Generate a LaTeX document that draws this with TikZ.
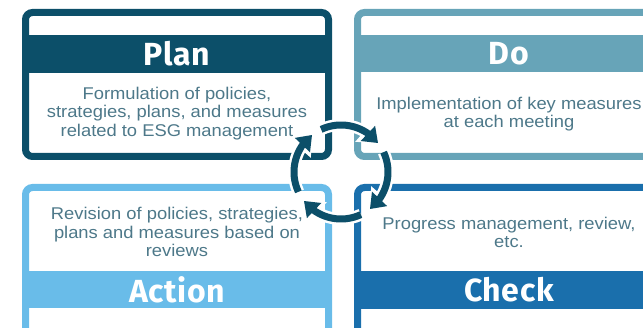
\documentclass[tikz,border=0pt]{standalone}
\usepackage{fontspec}
\setmainfont[FakeStretch=1.08]{Liberation Sans}
\newfontfamily\titlefont[LetterSpace=2]{Fira Sans}
\usetikzlibrary{arrows.meta,bending}
\definecolor{planc}{HTML}{0C4F69}
\definecolor{doc}{HTML}{67A4B8}
\definecolor{actc}{HTML}{69BCE9}
\definecolor{chkc}{HTML}{1A6FAC}
\definecolor{txtc}{HTML}{4D7889}
\tikzset{
  boxframe/.style={line width=7pt, rounded corners=7pt},
  ttl/.style={text=white, font=\titlefont\bfseries\fontsize{32}{36}\selectfont, inner sep=0pt},
  body/.style={text=txtc, align=center, font=\fontsize{17}{18.5}\selectfont, inner sep=0pt},
  halo/.style={draw=white, line width=12pt, -{Triangle[width=27pt,length=18pt]}},
  cyc/.style={draw=planc, line width=7pt, -{Triangle[width=20pt,length=14pt]}}
}
\begin{document}
\begin{tikzpicture}[x=1pt,y=1pt]
\useasboundingbox (0,0) rectangle (643,327);
\clip (0,0) rectangle (643,327);
% Plan
\fill[planc] (29,254) rectangle (325,292);
\draw[boxframe, draw=planc] (25.5,170.5) rectangle (328.5,314.5);
% Do
\fill[doc] (361,255) rectangle (657,292);
\draw[boxframe, draw=doc] (357.5,170.5) rectangle (660.5,314.5);
% Action
\fill[actc] (29,19) rectangle (325,56);
\draw[boxframe, draw=actc] (25.5,-11.5) rectangle (328.5,139.5);
% Check
\fill[chkc] (361,18) rectangle (657,56);
\draw[boxframe, draw=chkc] (357.5,-11.5) rectangle (660.5,139.5);
% titles
\node[ttl] (tplan) at (177,273) {Plan};
\node[ttl] (tdo) at (509,273.5) {Do};
\node[ttl] (tact) at (177,37.5) {Action};
\node[ttl] (tchk) at (509,37) {Check};
% cycle arrows
\coordinate (c) at (341,155);
\foreach \a in {0,90,180,270}{
  \draw[halo] ([shift={(115-\a:47pt)}]c) arc[start angle=115-\a, end angle=38-\a, radius=47pt];
}
\foreach \a in {0,90,180,270}{
  \draw[cyc] ([shift={(115-\a:47pt)}]c) arc[start angle=115-\a, end angle=38-\a, radius=47pt];
}
% body texts
\node[body] (bplan) at (177,213.5) {Formulation of policies,\\strategies, plans, and measures\\related to ESG management};
\node[body] (bdo) at (509,213) {Implementation of key measures\\at each meeting};
\node[body] (bact) at (177,95) {Revision of policies, strategies,\\plans and measures based on\\reviews};
\node[body] (bchk) at (509,94.5) {Progress management, review,\\etc.};
\end{tikzpicture}
\end{document}
